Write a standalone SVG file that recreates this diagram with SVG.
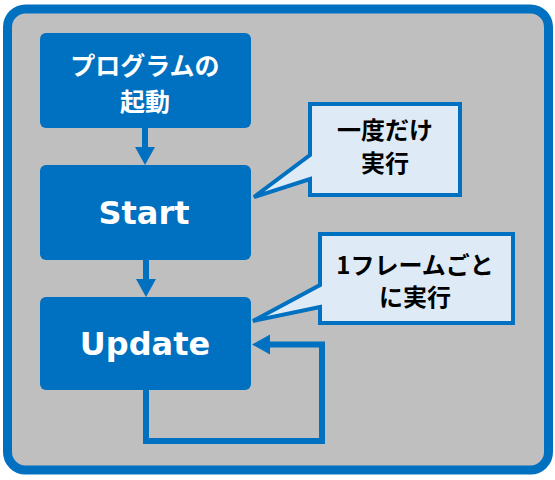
<svg xmlns="http://www.w3.org/2000/svg" width="555" height="480" viewBox="0 0 555 480">
<defs>
<style>
.node{fill:#0070C0;}
.jp{font-family:"Noto Sans CJK JP","Noto Sans",sans-serif;font-weight:bold;text-anchor:middle;dominant-baseline:central;}
.en{font-family:"DejaVu Sans","Noto Sans",sans-serif;font-weight:bold;text-anchor:middle;fill:#fff;font-size:32px;}
.wt{fill:#fff;font-size:25px;}
.bk{fill:#000;font-size:24px;}
.call{fill:#DEEBF7;stroke:#0070C0;stroke-width:4;stroke-linejoin:miter;}
.conn{fill:none;stroke:#0070C0;stroke-width:6;}
</style>
<marker id="ah" markerUnits="userSpaceOnUse" markerWidth="18" markerHeight="20" refX="0" refY="10" orient="auto" overflow="visible">
<path d="M0,0 L18,10 L0,20 Z" fill="#0070C0"/>
</marker>
</defs>
<rect x="7.5" y="9" width="541" height="461" rx="18" ry="18" fill="#BFBFBF" stroke="#0070C0" stroke-width="9"/>
<g id="connectors">
<path class="conn" d="M145,128 V147" marker-end="url(#ah)"/>
<path class="conn" d="M146,260 V279" marker-end="url(#ah)"/>
<path class="conn" d="M146,390 V441 H322 V344.5 H270" marker-end="url(#ah)"/>
</g>
<g id="node-launch">
<rect class="node" x="40" y="33" width="211" height="95" rx="6"/>
<text class="jp wt" x="145" y="64">プログラムの</text>
<text class="jp wt" x="145" y="100">起動</text>
</g>
<g id="node-start">
<rect class="node" x="40" y="165" width="211" height="95" rx="6"/>
<text class="en" x="144" y="224">Start</text>
</g>
<g id="node-update">
<rect class="node" x="40" y="297" width="211" height="93" rx="6"/>
<text class="en" x="145" y="355">Update</text>
</g>
<g id="callout-once">
<path class="call" d="M310,104 H460 V195 H310 V179 L254,197 L310,155 Z"/>
<text class="jp bk" x="385" y="128">一度だけ</text>
<text class="jp bk" x="385" y="161">実行</text>
</g>
<g id="callout-frame">
<path class="call" d="M320,234 H513 V323 H320 V307 L253,321 L320,285 Z"/>
<text class="jp bk" x="415" y="263">1フレームごと</text>
<text class="jp bk" x="415" y="295">に実行</text>
</g>
</svg>
